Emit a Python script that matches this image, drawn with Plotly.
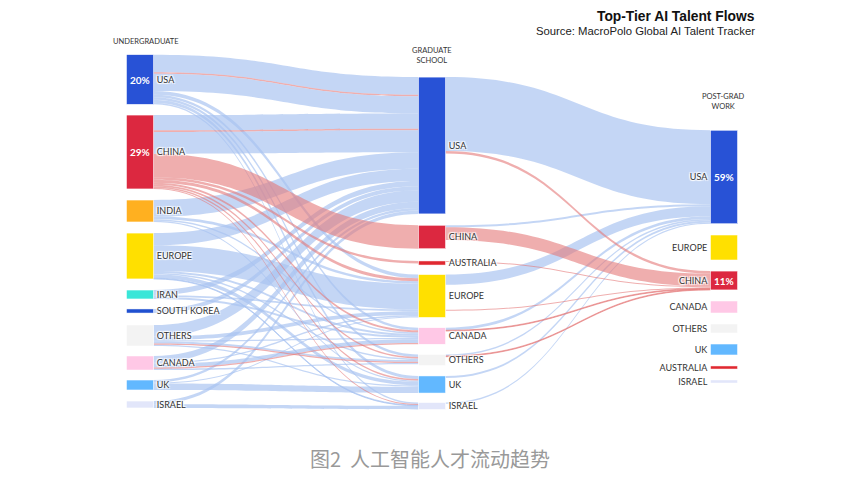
import plotly.graph_objects as go

# node lists per column
undergrad = ["USA", "CHINA", "INDIA", "EUROPE", "IRAN", "SOUTH KOREA", "OTHERS", "CANADA", "UK", "ISRAEL"]
grad = ["USA", "CHINA", "AUSTRALIA", "EUROPE", "CANADA", "OTHERS", "UK", "ISRAEL"]
postgrad = ["USA", "EUROPE", "CHINA", "CANADA", "OTHERS", "UK", "AUSTRALIA", "ISRAEL"]

undergrad_colors = ["#2852d6", "#dc2840", "#ffb020", "#ffe000", "#3ae6d8", "#2050d0",
                    "#f3f3f3", "#ffc8e6", "#62b8ff", "#e2e6fa"]
grad_colors = ["#2852d6", "#dc2840", "#e02830", "#ffe000", "#ffc8e6", "#f3f3f3", "#62b8ff", "#e2e6fa"]
postgrad_colors = ["#2852d6", "#ffe000", "#dc2840", "#ffc8e6", "#f3f3f3", "#62b8ff", "#e02830", "#e2e6fa"]

# share labels printed inside some nodes
undergrad_pct = {"USA": "20%", "CHINA": "29%"}
postgrad_pct = {"USA": "59%", "CHINA": "11%"}

# undergraduate -> graduate school (share of cohort, %)
flows_ug = [
    ("USA", "USA", 6.9, "blue"), ("USA", "EUROPE", 1.4, "blue"), ("USA", "CANADA", 1.0, "blue"),
    ("USA", "OTHERS", 1.0, "blue"), ("USA", "UK", 1.2, "blue"), ("USA", "ISRAEL", 0.6, "blue"),
    ("CHINA", "USA", 6.0, "blue"),
    ("INDIA", "USA", 6.5, "blue"), ("INDIA", "EUROPE", 1.0, "blue"), ("INDIA", "CANADA", 0.6, "blue"),
    ("INDIA", "UK", 0.5, "blue"),
    ("EUROPE", "USA", 4.8, "blue"), ("EUROPE", "EUROPE", 10.1, "blue"), ("EUROPE", "UK", 1.4, "blue"),
    ("EUROPE", "CANADA", 0.8, "blue"), ("EUROPE", "OTHERS", 0.6, "blue"), ("EUROPE", "ISRAEL", 0.3, "blue"),
    ("IRAN", "USA", 2.0, "blue"), ("IRAN", "CANADA", 0.8, "blue"), ("IRAN", "EUROPE", 0.7, "blue"),
    ("SOUTH KOREA", "USA", 1.6, "blue"),
    ("OTHERS", "USA", 4.5, "blue"), ("OTHERS", "EUROPE", 1.5, "blue"), ("OTHERS", "OTHERS", 0.7, "blue"),
    ("OTHERS", "CANADA", 0.5, "blue"), ("OTHERS", "UK", 0.5, "blue"),
    ("CANADA", "USA", 2.5, "blue"), ("CANADA", "CANADA", 1.5, "blue"), ("CANADA", "OTHERS", 0.5, "blue"),
    ("CANADA", "EUROPE", 0.5, "blue"),
    ("UK", "UK", 2.5, "blue"), ("UK", "USA", 1.0, "blue"), ("UK", "EUROPE", 0.4, "blue"),
    ("ISRAEL", "ISRAEL", 1.4, "blue"), ("ISRAEL", "USA", 1.3, "blue"),
    ("USA", "USA", 0.6, "pink"), ("CHINA", "USA", 0.6, "pink"),
    ("CHINA", "CHINA", 9.2, "pink"), ("CHINA", "AUSTRALIA", 1.0, "pink"), ("CHINA", "EUROPE", 1.2, "pink"),
    ("CHINA", "CANADA", 0.8, "pink"), ("CHINA", "OTHERS", 0.6, "pink"), ("CHINA", "UK", 0.6, "pink"),
    ("CHINA", "ISRAEL", 0.4, "pink"),
    ("OTHERS", "OTHERS", 0.5, "pink"), ("CANADA", "CANADA", 0.5, "pink"),
    ("USA", "USA", 6.8, "blue"), ("CHINA", "USA", 8.6, "blue"),
]

# graduate school -> post-grad work ("none" = stays, not drawn)
flows_gr = [
    ("USA", "USA", 29.0, "blue"), ("CHINA", "USA", 0.8, "blue"), ("EUROPE", "USA", 4.0, "blue"),
    ("CANADA", "USA", 1.0, "blue"), ("OTHERS", "USA", 0.6, "blue"), ("UK", "USA", 0.8, "blue"),
    ("ISRAEL", "USA", 0.5, "blue"),
    ("USA", "CHINA", 1.0, "pink"), ("CHINA", "CHINA", 5.0, "pink"), ("AUSTRALIA", "CHINA", 0.4, "pink"),
    ("EUROPE", "CHINA", 0.4, "pink"), ("CANADA", "CHINA", 0.3, "pink"), ("OTHERS", "CHINA", 0.3, "pink"),
    ("EUROPE", "EUROPE", 9.8, "none"), ("CANADA", "CANADA", 4.7, "none"), ("OTHERS", "OTHERS", 3.5, "none"),
    ("UK", "UK", 4.3, "none"), ("AUSTRALIA", "AUSTRALIA", 1.2, "none"), ("ISRAEL", "ISRAEL", 1.2, "none"),
]

# layout of the diagram (page body adds an 8px offset)
W, H = 863, 487
OFF = 8
ML, MR, MT, MB = 92, 108, 47, 85
PW, PH = W - ML - MR, H - MT - MB


def px_x(p):
    return (p - OFF - ML) / PW


def px_y(p):
    return (H - MB - (p - OFF)) / PH


col_x = [px_x(140), px_x(432), px_x(724)]
ug_y = [79.5, 152, 211, 256, 294.5, 311, 335.5, 363, 385, 404.5]
gr_y = [145.5, 237, 263, 296, 336, 360, 384.5, 406]
pg_y = [177, 247.5, 280.5, 307, 328.5, 349.5, 367.5, 381.5]

link_colors = {"blue": "rgba(168,195,240,0.68)", "pink": "rgba(228,120,120,0.6)", "none": "rgba(0,0,0,0)"}

labels = undergrad + grad + postgrad
colors = undergrad_colors + grad_colors + postgrad_colors
node_x = [col_x[0]] * len(undergrad) + [col_x[1]] * len(grad) + [col_x[2]] * len(postgrad)
node_y = [1 - px_y(v) for v in ug_y + gr_y + pg_y]

n_ug, n_gr = len(undergrad), len(grad)
src, tgt, val, lcol = [], [], [], []
for a, b, v, k in flows_ug:
    src.append(undergrad.index(a))
    tgt.append(n_ug + grad.index(b))
    val.append(v)
    lcol.append(link_colors[k])
for a, b, v, k in flows_gr:
    src.append(n_ug + grad.index(a))
    tgt.append(n_ug + n_gr + postgrad.index(b))
    val.append(v)
    lcol.append(link_colors[k])

fig = go.Figure(go.Sankey(
    arrangement="fixed",
    node=dict(
        label=labels,
        color=colors,
        x=node_x,
        y=node_y,
        pad=11,
        thickness=27,
        line=dict(color="white", width=0.5),
        hoverinfo="none",
    ),
    link=dict(source=src, target=tgt, value=val, color=lcol, hoverinfo="none"),
    textfont=dict(family="Lato", size=9, color="#333"),
))

ann = []
for name, txt in undergrad_pct.items():
    i = undergrad.index(name)
    ann.append(dict(x=col_x[0], y=px_y(ug_y[i]), text=txt))
for name, txt in postgrad_pct.items():
    i = postgrad.index(name)
    ann.append(dict(x=col_x[2], y=px_y(pg_y[i]), text=txt))
for a in ann:
    a.update(font=dict(family="Lato", size=10, color="white", weight="bold"))

headers = [("UNDERGRADUATE", 146, 41), ("GRADUATE<br>SCHOOL", 432, 55), ("POST-GRAD<br>WORK", 723, 101)]
for txt, x, y in headers:
    ann.append(dict(x=px_x(x), y=px_y(y), text=txt, font=dict(family="Lato", size=7.5, color="#333")))

ann.append(dict(x=px_x(757), y=px_y(17), xanchor="right", text="<b>Top-Tier AI Talent Flows</b>",
                font=dict(family="Liberation Sans", size=13.8, color="#111")))
ann.append(dict(x=px_x(757), y=px_y(31), xanchor="right", text="Source: MacroPolo Global AI Talent Tracker",
                font=dict(family="Liberation Sans", size=11.3, color="#222")))
ann.append(dict(x=px_x(430), y=px_y(458), text="图2  人工智能人才流动趋势",
                font=dict(family="Noto Sans CJK SC", size=20, color="#999")))

for a in ann:
    a.setdefault("xanchor", "center")
    a.update(xref="paper", yref="paper", yanchor="middle", showarrow=False)

fig.update_layout(
    width=W, height=H,
    margin=dict(l=ML, r=MR, t=MT, b=MB),
    paper_bgcolor="white",
    annotations=ann,
)

fig.write_html("out.html")
